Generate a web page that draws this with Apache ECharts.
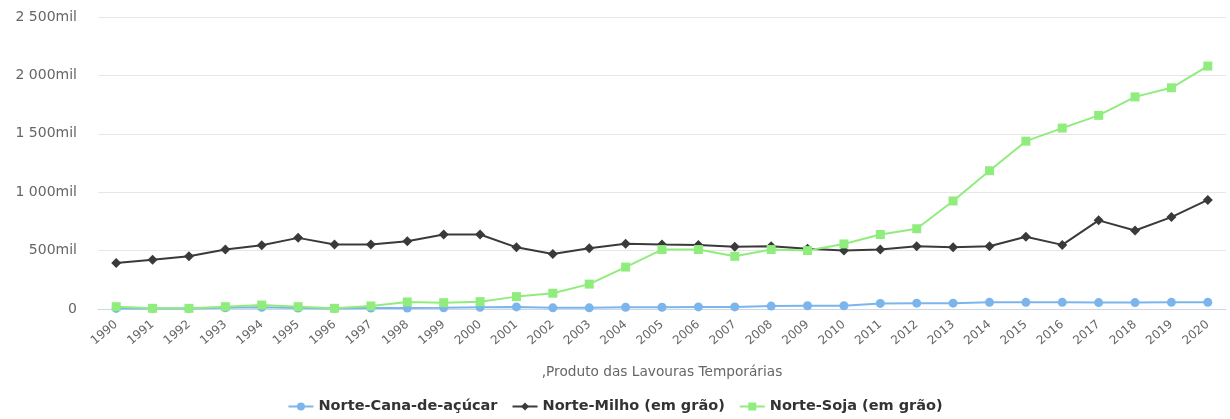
<!DOCTYPE html>
<html>
<head>
<meta charset="utf-8">
<script src="https://cdn.jsdelivr.net/npm/echarts@6/dist/echarts.min.js"></script>
<style>
  html, body { margin: 0; padding: 0; background: #fff; }
  #chart { width: 1230px; height: 419px; }
</style>
</head>
<body>
<div id="chart"></div>
<script>
// anos (categorias)
const years = ['1990', '1991', '1992', '1993', '1994', '1995', '1996', '1997', '1998', '1999', '2000',
  '2001', '2002', '2003', '2004', '2005', '2006', '2007', '2008', '2009', '2010',
  '2011', '2012', '2013', '2014', '2015', '2016', '2017', '2018', '2019', '2020'];

// valores em mil toneladas
const cana = [5, 5, 5, 10, 15, 8, 5, 8, 8, 10, 15, 18, 10, 10, 15, 15, 18, 18, 25, 28, 28,
  48, 50, 50, 57, 57, 57, 55, 55, 57, 57];
const milho = [394, 422, 451, 509, 546, 609, 552, 552, 580, 638, 638, 528, 471, 520, 558, 552,
  549, 532, 537, 515, 500, 509, 537, 528, 537, 618, 549, 759, 672, 787, 934];
const soja = [20, 6, 6, 20, 34, 20, 6, 26, 60, 54, 63, 106, 135, 213, 359, 509, 509, 451, 509,
  500, 557, 638, 687, 925, 1184, 1437, 1549, 1658, 1816, 1894, 2080];

const yTicks = [0, 500, 1000, 1500, 2000, 2500];

const fontFamily = '"DejaVu Sans", "Open Sans", sans-serif';

// 2500 -> "2 500mil"
function fmtMil(v) {
  if (v === 0) return '0';
  const s = String(v).replace(/\B(?=(\d{3})+(?!\d))/g, ' ');
  return s + 'mil';
}

const chart = echarts.init(document.getElementById('chart'));

const option = {
  animation: false,
  color: ['#7cb5ec', '#3a3a3c', '#90ed7d'],
  textStyle: { fontFamily: fontFamily },
  grid: { left: 98, right: 4, top: 17, bottom: 110 },
  legend: {
    bottom: 0,
    left: 'center',
    itemWidth: 25,
    itemHeight: 10,
    itemGap: 14,
    textStyle: { color: '#333', fontWeight: 'bold', fontSize: 14.5, fontFamily: fontFamily },
    data: ['Norte-Cana-de-açúcar', 'Norte-Milho (em grão)', 'Norte-Soja (em grão)']
  },
  xAxis: {
    type: 'category',
    data: years,
    name: ',Produto das Lavouras Temporárias',
    nameLocation: 'middle',
    nameGap: 56,
    nameTextStyle: { color: '#666', fontSize: 13.7 },
    axisLine: { lineStyle: { color: '#ccd6eb' } },
    axisTick: { lineStyle: { color: '#ccd6eb' }, length: 9 },
    axisLabel: { rotate: 40, color: '#666', fontSize: 12, margin: 14 }
  },
  yAxis: {
    type: 'value',
    min: yTicks[0],
    max: yTicks[yTicks.length - 1],
    interval: 500,
    axisLabel: { color: '#666', fontSize: 14, margin: 21, formatter: fmtMil },
    splitLine: { lineStyle: { color: '#e6e6e6' } },
    axisLine: { show: false },
    axisTick: { show: false }
  },
  series: [
    {
      name: 'Norte-Cana-de-açúcar',
      type: 'line',
      data: cana,
      symbol: 'circle',
      symbolSize: 9,
      lineStyle: { width: 2 }
    },
    {
      name: 'Norte-Milho (em grão)',
      type: 'line',
      data: milho,
      symbol: 'diamond',
      symbolSize: 10,
      lineStyle: { width: 2 }
    },
    {
      name: 'Norte-Soja (em grão)',
      type: 'line',
      data: soja,
      symbol: 'rect',
      symbolSize: 9,
      lineStyle: { width: 2 }
    }
  ]
};

chart.setOption(option);
</script>
</body>
</html>
